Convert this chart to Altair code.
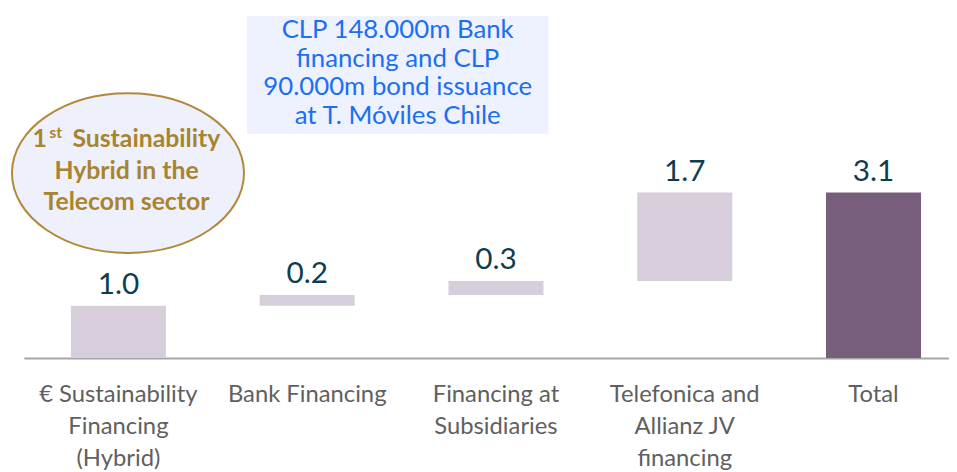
import altair as alt
import pandas as pd

# ---- data ----
categories = [
    "€ Sustainability|Financing|(Hybrid)",
    "Bank Financing",
    "Financing at|Subsidiaries",
    "Telefonica and|Allianz JV|financing",
    "Total",
]
step_values = [0.98, 0.20, 0.26, 1.66]

box_lines = ["CLP 148.000m Bank", "financing and CLP", "90.000m bond issuance", "at T. Móviles Chile"]
ellipse_first = ["1", "st", "Sustainability"]
ellipse_rest = ["Hybrid  in the", "Telecom sector"]

# ---- waterfall table ----
rows = []
cum = 0.0
for c, v in zip(categories[:-1], step_values):
    rows.append(dict(cat=c, start=cum, end=cum + v, value=v, kind="step"))
    cum += v
rows.append(dict(cat=categories[-1], start=0.0, end=cum, value=cum, kind="total"))
df = pd.DataFrame(rows)

W, H = 933, 351
xscale = alt.Scale(domain=categories, paddingInner=0.4967, paddingOuter=0.1987, align=0.627, round=False)
yscale = alt.Scale(domain=[0, 6.516], nice=False, zero=True)

xaxis = alt.Axis(labelExpr="split(datum.label, '|')", labelAngle=0,
                 labelFont="Lato", labelFontSize=24, labelColor="#606060",
                 labelLineHeight=32, labelBaseline="alphabetic",
                 labelPadding=44, ticks=False, tickSize=0,
                 domainColor="#a6a6a6", domainWidth=2,
                 labelOverlap=False, labelLimit=400)

base = alt.Chart(df)

bars = base.mark_bar().encode(
    x=alt.X("cat:N", sort=categories, scale=xscale, title=None, axis=xaxis),
    y=alt.Y("end:Q", scale=yscale, axis=None),
    y2="start:Q",
    color=alt.Color("kind:N", scale=alt.Scale(domain=["step", "total"],
                                              range=["#d8cedb", "#785e7d"]), legend=None),
)

labels = base.mark_text(font="Lato", fontSize=30, color="#0f3d50",
                        baseline="alphabetic", align="center", dy=-12).encode(
    x=alt.X("cat:N", sort=categories, scale=xscale, title=None, axis=xaxis),
    y=alt.Y("end:Q", scale=yscale, axis=None),
    text=alt.Text("value:Q", format=".1f"),
)

one = pd.DataFrame({"a": [0]})

ellipse_path = "M-1,0A1,0.688,0,1,1,1,0A1,0.688,0,1,1,-1,0Z"
ellipse = alt.Chart(one).mark_point(
    shape=ellipse_path, size=234 ** 2, filled=True, fill="#eef1fb",
    stroke="#b0893a", strokeWidth=2, opacity=1, fillOpacity=1, strokeOpacity=1,
).encode(x=alt.value(105), y=alt.value(164.5))

gold = "#a8842e"
e1 = alt.Chart(pd.DataFrame({"t": [ellipse_first[0]]})).mark_text(
    font="Lato", fontWeight="bold", fontSize=25, color=gold, baseline="alphabetic", align="center"
).encode(text="t:N", x=alt.value(16), y=alt.value(138))
e2 = alt.Chart(pd.DataFrame({"t": [ellipse_first[1]]})).mark_text(
    font="Lato", fontWeight="bold", fontSize=16, color=gold, baseline="alphabetic", align="center"
).encode(text="t:N", x=alt.value(32), y=alt.value(129))
e3 = alt.Chart(pd.DataFrame({"t": [ellipse_first[2]]})).mark_text(
    font="Lato", fontWeight="bold", fontSize=25, color=gold, baseline="alphabetic", align="center"
).encode(text="t:N", x=alt.value(123.5), y=alt.value(138))
e4 = alt.Chart(pd.DataFrame({"t": ["\n".join(ellipse_rest)]})).mark_text(
    font="Lato", fontWeight="bold", fontSize=25, color=gold, baseline="alphabetic", align="center",
    lineBreak="\n", lineHeight=32
).encode(text="t:N", x=alt.value(103.5), y=alt.value(170))

box = alt.Chart(one).mark_rect(fill="#eef2fe").encode(
    x=alt.value(225), x2=alt.value(529), y=alt.value(6), y2=alt.value(125))
box_text = alt.Chart(pd.DataFrame({"t": ["\n".join(box_lines)]})).mark_text(
    font="Lato", fontSize=26, color="#1c6ef2", baseline="alphabetic", align="center",
    lineBreak="\n", lineHeight=28.7
).encode(text="t:N", x=alt.value(377), y=alt.value(28.7))

chart = alt.layer(bars, labels, box, box_text, ellipse, e1, e2, e3, e4).properties(
    width=W, height=H,
    padding={"left": 16, "top": 0, "right": 0, "bottom": 113},
    autosize=alt.AutoSizeParams(type="none"),
).configure_view(stroke=None)

chart.save("out.html", embed_options={"renderer": "svg", "actions": False})
